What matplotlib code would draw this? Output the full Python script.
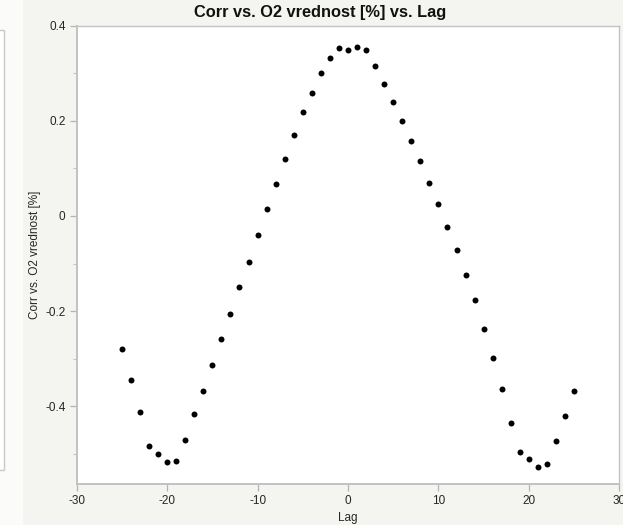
import matplotlib
matplotlib.use("Agg")
import matplotlib.pyplot as plt
from matplotlib.patches import Rectangle
from matplotlib.ticker import FixedLocator, FuncFormatter

plt.rcParams['font.family'] = ['Liberation Sans', 'DejaVu Sans']
plt.rcParams['axes.unicode_minus'] = False

# === Cross-correlation values ===
lags = list(range(-25, 26))
corr = [
    -0.279, -0.344, -0.412, -0.483, -0.499, -0.517, -0.514, -0.471, -0.417, -0.367,
    -0.314, -0.258, -0.205, -0.149, -0.097, -0.039, 0.014, 0.067, 0.120, 0.170,
    0.218, 0.258, 0.300, 0.332, 0.352, 0.349, 0.354, 0.349, 0.314, 0.277,
    0.240, 0.200, 0.157, 0.115, 0.069, 0.026, -0.024, -0.071, -0.123, -0.176,
    -0.237, -0.298, -0.364, -0.435, -0.496, -0.510, -0.527, -0.522, -0.473, -0.420,
    -0.368,
]
x_ticks = [-30, -20, -10, 0, 10, 20, 30]
y_ticks = [-0.4, -0.2, 0, 0.2, 0.4]
y_minor = [-0.5, -0.3, -0.1, 0.1, 0.3]

W, H = 623, 525
BG = '#f4f4f0'
SPINE = '#c2c2c2'
TEXT = '#262626'

fig = plt.figure(figsize=(W / 100, H / 100), dpi=100)
fig.patch.set_facecolor(BG)

# neighbouring panel strip on the left edge
fig.patches.append(Rectangle((0, 0), 23 / W, 1, transform=fig.transFigure,
                             facecolor='#fbfbfa', edgecolor='none', zorder=0))
fig.patches.append(Rectangle((-10 / W, 1 - 470 / H), 13.5 / W, 440 / H,
                             transform=fig.transFigure, facecolor='white',
                             edgecolor='#c8c8c8', linewidth=1.0, zorder=1))

ax = fig.add_axes([76.7 / W, 1 - 484 / H, (619.3 - 76.7) / W, (484 - 25.5) / H])
ax.set_facecolor('white')

ax.plot(lags, corr, linestyle='none', marker='o', markersize=4.3,
        color='black', markeredgewidth=0)

ax.set_xlim(-30, 30)
ax.set_ylim(-0.563, 0.4)

ax.xaxis.set_major_locator(FixedLocator(x_ticks))
ax.yaxis.set_major_locator(FixedLocator(y_ticks))
ax.yaxis.set_minor_locator(FixedLocator(y_minor))
fmt = FuncFormatter(lambda v, pos: f"{v:g}")
ax.xaxis.set_major_formatter(fmt)
ax.yaxis.set_major_formatter(fmt)

for side in ['left', 'bottom', 'top', 'right']:
    ax.spines[side].set_color(SPINE)
    ax.spines[side].set_linewidth(1.4)
ax.spines['top'].set_linewidth(1.0)
ax.spines['right'].set_linewidth(1.0)

ax.tick_params(axis='both', which='major', direction='out', length=5, width=0.9,
               color='#b4b4b4', labelsize=8.5, labelcolor=TEXT, pad=3)
ax.tick_params(axis='y', which='minor', direction='out', length=3, width=0.8,
               color='#c4c4c4')

ax.set_xlabel('Lag', fontsize=8.5, color=TEXT)
ax.set_ylabel('Corr vs. O2 vrednost [%]', fontsize=8.5, color=TEXT)
ax.xaxis.set_label_coords(0.5, (484 - 518) / (484 - 25.5))
ax.yaxis.set_label_coords((35 - 76.7) / (619.3 - 76.7), 0.5)
ax.xaxis.label.set_va('center')
ax.yaxis.label.set_va('center')

fig.text(320 / W, 1 - 12 / H, 'Corr vs. O2 vrednost [%] vs. Lag', ha='center',
         va='center', fontsize=11.8, fontweight='bold', color='#111111')

fig.savefig('out.png', dpi=100, facecolor=BG)
